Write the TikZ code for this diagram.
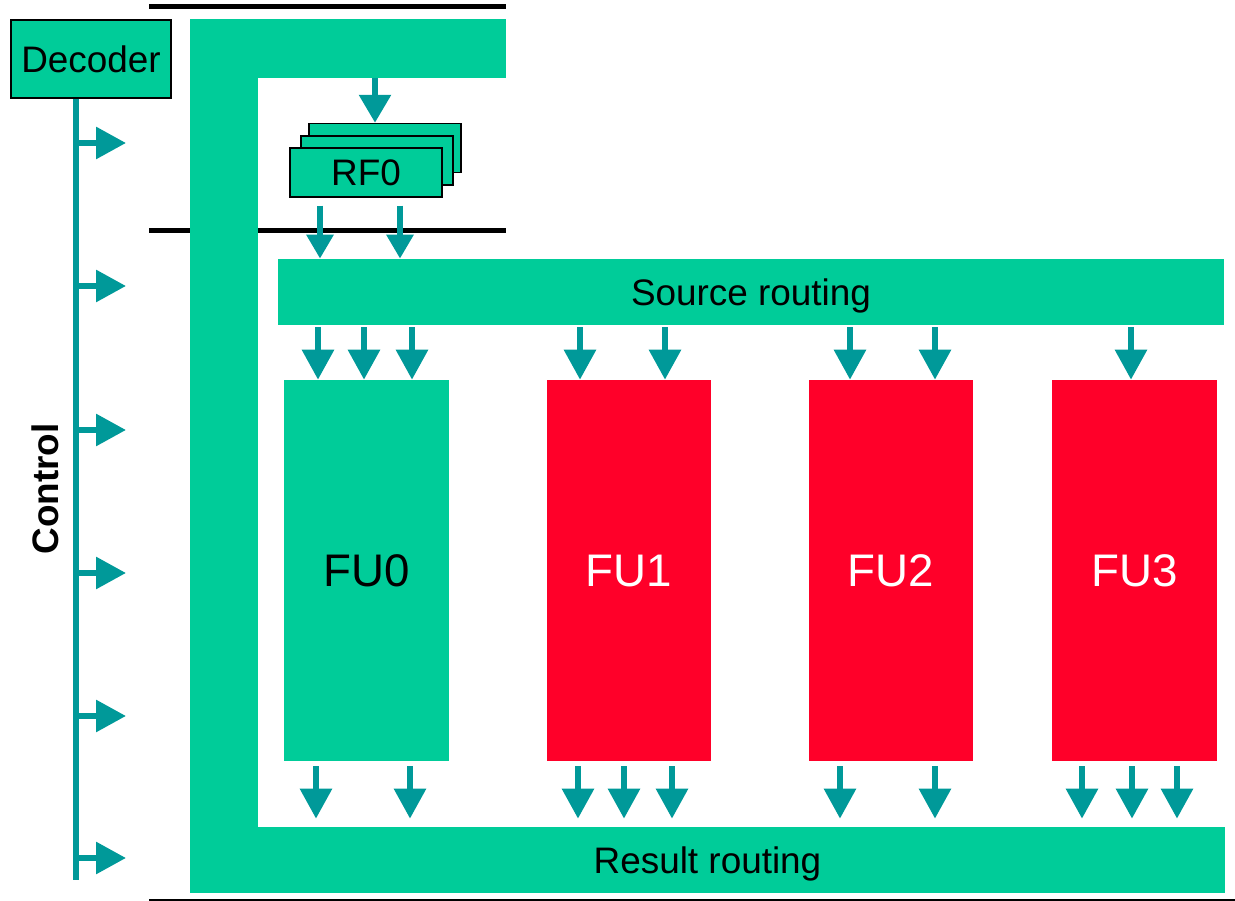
\documentclass[tikz,border=0pt]{standalone}
\usepackage{fontspec}
\setmainfont{Liberation Sans}
\usetikzlibrary{arrows.meta}
\definecolor{busgreen}{RGB}{0,204,153}
\definecolor{wireteal}{RGB}{0,153,153}
\definecolor{fured}{RGB}{255,0,41}

\begin{document}
\begin{tikzpicture}[x=0.02cm, y=-0.02cm,
    every node/.style={font=\fontsize{21}{25}\selectfont, text height=15pt, text depth=0pt},
    box/.style={rectangle, fill=busgreen, inner sep=0pt},
    regbox/.style={box, draw=black, line width=0.85pt, minimum width=3.04cm, minimum height=0.98cm},
    fubox/.style={box, minimum width=3.3cm, minimum height=7.62cm, font=\fontsize{26}{30}\selectfont, text height=18.6pt},
    flow/.style={draw=wireteal, line width=0.12cm, -{Triangle[width=0.62cm, length=0.6cm]}}]
    \useasboundingbox (0,0) rectangle (1235,901);
    \def\wire{0.12cm}

    % pipeline registers
    \draw[line width=0.1cm] (149,7) -- (506,7);
    \draw[line width=0.1cm] (149,231) -- (506,231);
    \draw[line width=0.03cm] (149,900) -- (1235,900);

    % busses
    \node[box, minimum width=1.36cm, minimum height=17.48cm] (vbar) at (224,456) {};
    \node[box, minimum width=6.32cm, minimum height=1.18cm] (wb) at (348,48.5) {};
    \node[box, minimum width=20.7cm, minimum height=1.32cm] (res) at (707.5,860) {Result routing};
    \node[box, minimum width=18.92cm, minimum height=1.32cm] (src) at (751,292) {Source routing};

    % register file
    \node[regbox] (rfb) at (385,148) {};
    \node[regbox] (rfm) at (377,160.5) {};
    \node[regbox] (rf0) at (366,172.5) {RF0};

    % functional units
    \node[fubox] (fu0) at (366.5,570.5) {FU0};
    \node[fubox, fill=fured, text=white] (fu1) at (629,570.5) {FU1};
    \node[fubox, fill=fured, text=white] (fu2) at (891,570.5) {FU2};
    \node[fubox, fill=fured, text=white] (fu3) at (1134.5,570.5) {FU3};

    % control
    \node[box, draw=black, line width=1.1pt, minimum width=3.2cm, minimum height=1.56cm] (dec) at (91,59) {Decoder};
    \node[rotate=90, font=\fontsize{21}{25}\selectfont\bfseries] (ctrl) at (45,489) {Control};
    \coordinate (cend) at (76,880);
    \draw[draw=wireteal, line width=\wire] (dec.south -| 76,0) -- (cend);
    \foreach \y in {143,286,430,573,716,858}
        \draw[flow] (cend |- 0,\y) -- ++(50,0);

    % data flow
    \draw[flow, -{Triangle[width=0.62cm, length=0.56cm]}] (wb.south -| 375,0) -- (rfb.north -| 375,0);
    \foreach \x in {320,400}
        \draw[flow, -{Triangle[width=0.52cm, length=0.48cm]}, shorten <=0.16cm] (rf0.south -| \x,0) -- (src.north -| \x,0);
    \foreach \f/\x in {fu0/318, fu0/364, fu0/412, fu1/580, fu1/665, fu2/850, fu2/935, fu3/1131}
        \draw[flow, shorten <=0.04cm] (src.south -| \x,0) -- (\f.north -| \x,0);
    \foreach \f/\x in {fu0/316, fu0/410, fu1/578, fu1/624, fu1/672, fu2/840, fu2/935, fu3/1082, fu3/1132, fu3/1177}
        \draw[flow, shorten <=0.1cm, shorten >=0.16cm] (\f.south -| \x,0) -- (res.north -| \x,0);
\end{tikzpicture}
\end{document}
